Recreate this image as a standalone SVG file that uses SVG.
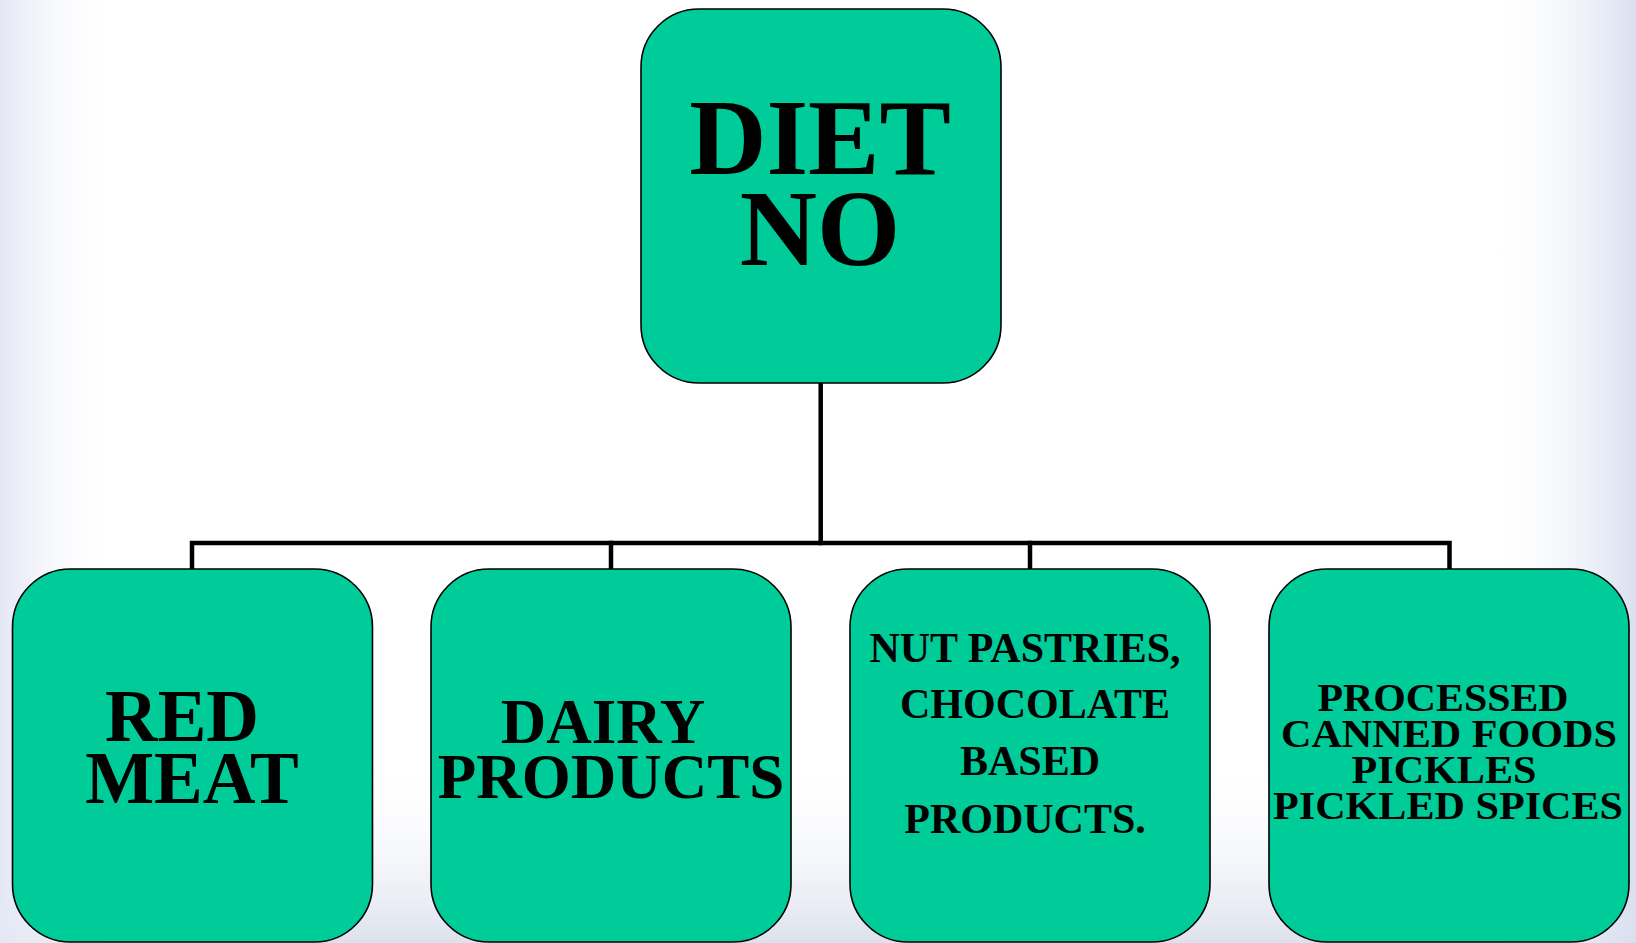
<svg xmlns="http://www.w3.org/2000/svg" width="1636" height="943" viewBox="0 0 1636 943">
  <defs>
    <linearGradient id="bgL" x1="0" y1="0" x2="1" y2="0">
      <stop offset="0" stop-color="#e4e8f5"/>
      <stop offset="1" stop-color="#ffffff" stop-opacity="0"/>
    </linearGradient>
    <linearGradient id="bgR" x1="0" y1="0" x2="1" y2="0">
      <stop offset="0" stop-color="#ffffff" stop-opacity="0"/>
      <stop offset="1" stop-color="#d9dfef"/>
    </linearGradient>
    <linearGradient id="bgB" x1="0" y1="0" x2="0" y2="1">
      <stop offset="0" stop-color="#ffffff" stop-opacity="0"/>
      <stop offset="1" stop-color="#dce1ed"/>
    </linearGradient>
  </defs>
  <style>
    .box { fill: #00cc99; stroke: #000000; stroke-width: 1.6; }
    .lbl { font-family: "Liberation Serif", "Times New Roman", serif; font-weight: bold; fill: #000000; text-anchor: middle; }
    .conn { fill: none; stroke: #000000; stroke-width: 4.5; stroke-linecap: square; }
  </style>
  <rect x="0" y="0" width="1636" height="943" fill="#ffffff"/>
  <rect x="0" y="760" width="1636" height="183" fill="url(#bgB)"/>
  <rect x="0" y="0" width="115" height="943" fill="url(#bgL)"/>
  <rect x="1490" y="0" width="146" height="943" fill="url(#bgR)"/>

  <g id="connectors">
    <path class="conn" d="M820.7 383 V543"/>
    <path class="conn" d="M192 569 V543 H1449.5 V569"/>
    <path class="conn" d="M611 543 V569"/>
    <path class="conn" d="M1030 543 V569"/>
  </g>

  <g id="node-diet-no">
    <rect class="box" x="641" y="9" width="360" height="374" rx="58" ry="58"/>
    <text class="lbl" x="820" y="174" font-size="107">DIET</text>
    <text class="lbl" x="820" y="265" font-size="107">NO</text>
  </g>

  <g id="node-red-meat">
    <rect class="box" x="12.5" y="569" width="360" height="373" rx="58" ry="58"/>
    <text class="lbl" x="182" y="741" font-size="73">RED</text>
    <text class="lbl" x="192" y="803" font-size="73">MEAT</text>
  </g>

  <g id="node-dairy">
    <rect class="box" x="431" y="569" width="360" height="373" rx="58" ry="58"/>
    <text class="lbl" x="603" y="743" font-size="63">DAIRY</text>
    <text class="lbl" x="611" y="798" font-size="63">PRODUCTS</text>
  </g>

  <g id="node-nut-pastries">
    <rect class="box" x="850" y="569" width="360" height="373" rx="58" ry="58"/>
    <text class="lbl" x="1025" y="662" font-size="42">NUT PASTRIES,</text>
    <text class="lbl" x="1035" y="718" font-size="42">CHOCOLATE</text>
    <text class="lbl" x="1030" y="775" font-size="42">BASED</text>
    <text class="lbl" x="1025" y="833" font-size="42">PRODUCTS.</text>
  </g>

  <g id="node-processed">
    <rect class="box" x="1269" y="569" width="360" height="373" rx="58" ry="58"/>
    <text class="lbl" x="1443" y="711" font-size="41" textLength="251" lengthAdjust="spacingAndGlyphs">PROCESSED</text>
    <text class="lbl" x="1449" y="747" font-size="41" textLength="336" lengthAdjust="spacingAndGlyphs">CANNED FOODS</text>
    <text class="lbl" x="1444" y="783" font-size="41" textLength="185" lengthAdjust="spacingAndGlyphs">PICKLES</text>
    <text class="lbl" x="1448" y="819" font-size="41" textLength="350" lengthAdjust="spacingAndGlyphs">PICKLED SPICES</text>
  </g>
</svg>
